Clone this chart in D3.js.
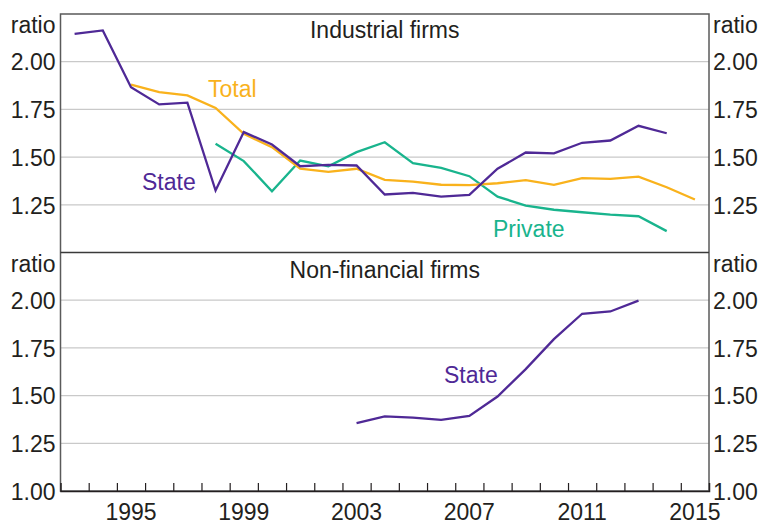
<!DOCTYPE html>
<html>
<head>
<meta charset="utf-8">
<script src="https://cdn.jsdelivr.net/npm/d3@7"></script>
<style>
  body { margin: 0; background: #fff; }
  text { font-family: "Liberation Sans", Arial, sans-serif; fill: #231f20; }
</style>
</head>
<body>
<svg id="chart" width="762" height="524"></svg>
<script>
// industrial firms, ratio
var years = d3.range(1993, 2016);
var industrialState = [2.146, 2.164, 1.866, 1.776, 1.785, 1.325, 1.631, 1.566, 1.452, 1.459, 1.456, 1.304,
    1.313, 1.293, 1.302, 1.439, 1.524, 1.520, 1.575, 1.587, 1.664, 1.625, null];
var industrialTotal = [null, null, 1.880, 1.840, 1.823, 1.758, 1.622, 1.552, 1.439, 1.423, 1.439, 1.381,
    1.372, 1.355, 1.353, 1.363, 1.379, 1.355, 1.390, 1.386, 1.398, 1.342, 1.278];
var industrialPrivate = [null, null, null, null, null, 1.570, 1.479, 1.321, 1.482, 1.452, 1.526, 1.578,
    1.468, 1.444, 1.400, 1.293, 1.246, 1.224, 1.211, 1.198, 1.190, 1.112, null];
// non-financial firms
var nonfinState = [null, null, null, null, null, null, null, null, null, null, 1.356, 1.391,
    1.385, 1.373, 1.394, 1.495, 1.639, 1.796, 1.929, 1.941, 1.998, null, null];

var yTicks = [1.25, 1.5, 1.75, 2.0];
var yTicksBottom = [1.0, 1.25, 1.5, 1.75, 2.0];
var yearLabels = [1995, 1999, 2003, 2007, 2011, 2015];

(function () {
    var purple = '#4f2996', orange = '#f9b21c', green = '#19b48d';

    var svg = d3.select('#chart');
    var left = 60.5, right = 709, plotTop = 14, mid = 252.5, bottom = 491;
    var fs = 23;

    var x = d3.scaleLinear().domain([1993, 2016]).range([left, right]);
    var yTop = d3.scaleLinear().domain([1, 2.25]).range([mid, plotTop]);
    var yBot = d3.scaleLinear().domain([1, 2.25]).range([bottom, mid]);

    function panel(y, ticks, py) {
        var g = svg.append('g');
        // gridlines
        g.selectAll('line.grid').data(yTicks).enter().append('line')
            .attr('x1', left).attr('x2', right)
            .attr('y1', function (d) { return y(d); }).attr('y2', function (d) { return y(d); })
            .attr('stroke', '#c9c9c9').attr('stroke-width', 1.2);

        var la = g.append('g').attr('transform', 'translate(' + (left - 5) + ',0)')
            .call(d3.axisLeft(y).tickValues(ticks).tickFormat(d3.format('.2f')).tickSize(0).tickPadding(0));
        var ra = g.append('g').attr('transform', 'translate(' + (right + 4) + ',0)')
            .call(d3.axisRight(y).tickValues(ticks).tickFormat(d3.format('.2f')).tickSize(0).tickPadding(0));
        [la, ra].forEach(function (a) {
            a.select('.domain').remove();
            a.selectAll('text').attr('font-size', fs).attr('font-family', null).attr('fill', '#231f20').attr('dy', '0.36em');
        });

        g.append('text').attr('x', left - 5).attr('y', py + 19).attr('text-anchor', 'end').attr('font-size', fs).text('ratio');
        g.append('text').attr('x', right + 4).attr('y', py + 19).attr('font-size', fs).text('ratio');
        return g;
    }

    panel(yTop, yTicks, plotTop);
    panel(yBot, yTicksBottom, mid);

    svg.append('text').attr('x', (left + right) / 2).attr('y', plotTop + 24).attr('text-anchor', 'middle')
        .attr('font-size', fs).text('Industrial firms');
    svg.append('text').attr('x', (left + right) / 2).attr('y', mid + 25).attr('text-anchor', 'middle')
        .attr('font-size', fs).text('Non-financial firms');

    function series(vals, y, color) {
        var line = d3.line()
            .defined(function (d) { return d != null; })
            .x(function (d, i) { return x(years[i] + 0.5); })
            .y(function (d) { return y(d); });
        svg.append('path').datum(vals).attr('d', line)
            .attr('fill', 'none').attr('stroke', color).attr('stroke-width', 2.3);
    }

    series(industrialPrivate, yTop, green);
    series(industrialTotal, yTop, orange);
    series(industrialState, yTop, purple);
    series(nonfinState, yBot, purple);

    // series labels
    svg.append('text').attr('x', 208).attr('y', 97).attr('font-size', fs).style('fill', orange).text('Total');
    svg.append('text').attr('x', 142).attr('y', 190).attr('font-size', fs).style('fill', purple).text('State');
    svg.append('text').attr('x', 493).attr('y', 237).attr('font-size', fs).style('fill', green).text('Private');
    svg.append('text').attr('x', 444).attr('y', 383).attr('font-size', fs).style('fill', purple).text('State');

    // frame
    var frame = svg.append('g').attr('fill', 'none');
    frame.append('rect').attr('x', left).attr('y', plotTop).attr('width', right - left).attr('height', bottom - plotTop)
        .attr('stroke', '#5a5a5a').attr('stroke-width', 1.5);
    frame.append('line').attr('x1', left).attr('x2', right).attr('y1', mid).attr('y2', mid)
        .attr('stroke', '#3a3a3a').attr('stroke-width', 1.3);

    // x axis: ticks at year boundaries, labels mid-year
    var xa = svg.append('g').attr('transform', 'translate(0,' + bottom + ')')
        .call(d3.axisBottom(x).tickValues(d3.range(1994, 2016)).tickSize(-8).tickFormat(''));
    xa.select('.domain').attr('stroke', '#231f20').attr('stroke-width', 1.5);
    xa.selectAll('.tick line').attr('stroke', '#231f20').attr('stroke-width', 1.2);

    svg.append('g').selectAll('text').data(yearLabels).enter().append('text')
        .attr('x', function (d) { return x(d + 0.5); }).attr('y', 520)
        .attr('text-anchor', 'middle').attr('font-size', fs)
        .text(function (d) { return d; });
})();
</script>
</body>
</html>
